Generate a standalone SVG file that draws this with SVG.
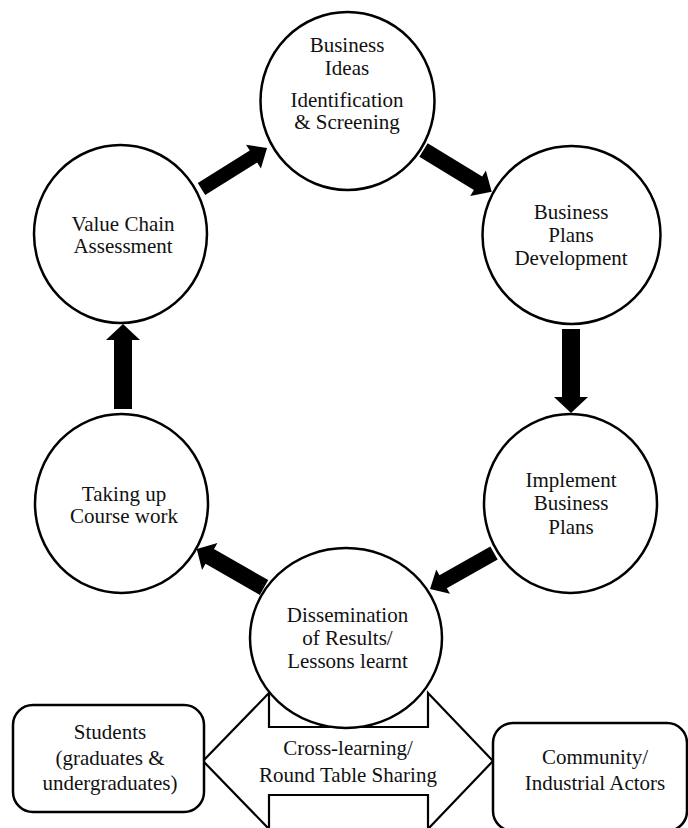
<svg xmlns="http://www.w3.org/2000/svg" width="688" height="828" viewBox="0 0 688 828">
<style>
.node{fill:#fff;stroke:#000;stroke-width:2.5}
.box{fill:#fff;stroke:#000;stroke-width:2.5}
.arr{fill:#000;stroke:none}
.dbl{fill:#fff;stroke:#000;stroke-width:2.2;stroke-linejoin:miter}
.t{font-family:'Liberation Serif','DejaVu Serif',serif;font-size:21px;fill:#111;text-anchor:middle}
</style>
<rect width="688" height="828" fill="#fff"/>
<g id="cross-learning">
<polygon class="dbl" points="203,761 269,693 269,727 428,727 428,693 493,761 428,829 428,795 269,795 269,829"/>
<text class="t" x="348" y="755">Cross-learning/</text>
<text class="t" x="348" y="782">Round Table Sharing</text>
</g>
<g id="students">
<rect class="box" x="13" y="705" width="191" height="107" rx="20"/>
<text class="t" x="110" y="739">Students</text>
<text class="t" x="110" y="765">(graduates &amp;</text>
<text class="t" x="110" y="790">undergraduates)</text>
</g>
<g id="community">
<rect class="box" x="493" y="723" width="194" height="108" rx="20"/>
<text class="t" x="595" y="764">Community/</text>
<text class="t" x="595" y="790">Industrial Actors</text>
</g>
<g id="business-ideas">
<ellipse class="node" cx="347.5" cy="101" rx="87" ry="89"/>
<text class="t" x="347" y="52">Business</text>
<text class="t" x="347" y="75">Ideas</text>
<text class="t" x="347" y="107">Identification</text>
<text class="t" x="347" y="129">&amp; Screening</text>
</g>
<g id="business-plans">
<ellipse class="node" cx="571.5" cy="235" rx="89" ry="89"/>
<text class="t" x="571" y="219">Business</text>
<text class="t" x="571" y="242">Plans</text>
<text class="t" x="571" y="265">Development</text>
</g>
<g id="implement">
<ellipse class="node" cx="570.5" cy="503.5" rx="86.5" ry="89.5"/>
<text class="t" x="571" y="487">Implement</text>
<text class="t" x="571" y="510">Business</text>
<text class="t" x="571" y="534">Plans</text>
</g>
<g id="dissemination">
<ellipse class="node" cx="346" cy="638" rx="96" ry="90"/>
<text class="t" x="347.5" y="622">Dissemination</text>
<text class="t" x="347.5" y="645">of Results/</text>
<text class="t" x="347.5" y="668">Lessons learnt</text>
</g>
<g id="taking-up">
<ellipse class="node" cx="121.5" cy="503.5" rx="86.5" ry="89.5"/>
<text class="t" x="124" y="501">Taking up</text>
<text class="t" x="124" y="523">Course work</text>
</g>
<g id="value-chain">
<ellipse class="node" cx="120.5" cy="234" rx="86.5" ry="89"/>
<text class="t" x="123" y="231">Value Chain</text>
<text class="t" x="123" y="253">Assessment</text>
</g>
<g id="connectors">
<path class="arr" transform="translate(201.5,189) rotate(-32)" d="M0,-7 L61.3,-7 L61.3,-14 L77.3,0 L61.3,14 L61.3,7 L0,7 Z"/>
<path class="arr" transform="translate(423.5,150) rotate(31.4)" d="M0,-8 L63.9,-8 L63.9,-15 L79.9,0 L63.9,15 L63.9,8 L0,8 Z"/>
<polygon class="arr" points="562,329 580,329 580,397 588,397 571,413 554,397 562,397"/>
<path class="arr" transform="translate(494,553) rotate(150.6)" d="M0,-7.5 L58.4,-7.5 L58.4,-14 L73.4,0 L58.4,14 L58.4,7.5 L0,7.5 Z"/>
<path class="arr" transform="translate(264,587.5) rotate(-150.2)" d="M0,-8.5 L62.5,-8.5 L62.5,-15.5 L77.5,0 L62.5,15.5 L62.5,8.5 L0,8.5 Z"/>
<polygon class="arr" points="114,409 132,409 132,340 140,340 123,324 106,340 114,340"/>
</g>
</svg>
